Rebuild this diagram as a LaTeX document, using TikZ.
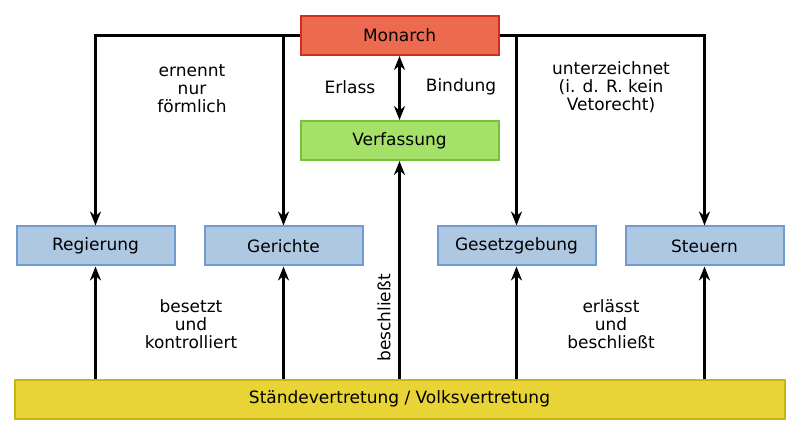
\documentclass[tikz,border=0pt]{standalone}
\usepackage{fontspec}
\setmainfont{DejaVu Sans}
\usetikzlibrary{arrows.meta}
\definecolor{mred}{HTML}{EB6A50}\definecolor{mredb}{HTML}{D0301A}
\definecolor{mgreen}{HTML}{A5E068}\definecolor{mgreenb}{HTML}{78BF3C}
\definecolor{mblue}{HTML}{AFC8E2}\definecolor{mblueb}{HTML}{6F9BD0}
\definecolor{myel}{HTML}{E9D435}\definecolor{myelb}{HTML}{C9B510}
\begin{document}
\begin{tikzpicture}[x=1pt,y=-1pt,
  box/.style={draw,line width=2pt,minimum width=158pt,minimum height=39pt,inner sep=0pt,font=\fontsize{17}{20}\selectfont},
  lab/.style={align=center,font=\fontsize{17}{18}\selectfont},
  ar/.style={line width=2.5pt,-{Stealth[length=14pt,width=11pt]}},
  dar/.style={line width=2.5pt,{Stealth[length=14pt,width=11pt]}-{Stealth[length=14pt,width=11pt]}}]
\useasboundingbox (0,0) rectangle (800,435);
\node[box,fill=mred,draw=mredb,minimum width=198pt] (mon) at (399.5,35.5) {Monarch};
\node[box,fill=mgreen,draw=mgreenb,minimum width=198pt] (ver) at (399.5,140.5) {Verfassung};
\node[box,fill=mblue,draw=mblueb] (reg) at (95.5,246) {Regierung};
\node[box,fill=mblue,draw=mblueb] (ger) at (283.5,246) {Gerichte};
\node[box,fill=mblue,draw=mblueb] (ges) at (516.5,246) {Gesetzgebung};
\node[box,fill=mblue,draw=mblueb] (st) at (704.5,246) {Steuern};
\node[box,fill=myel,draw=myelb,minimum width=770pt] (sv) at (399.5,399) {Ständevertretung / Volksvertretung};
\draw[ar] (mon.west) -| (reg.north);
\draw[ar] (mon.west) -| (ger.north);
\draw[ar] (mon.east) -| (st.north);
\draw[ar] (mon.east) -| (ges.north);
\draw[dar] (mon) -- (ver);
\foreach \n in {reg,ger,ges,st} \draw[ar] (sv.north -| \n) -- (\n.south);
\draw[ar] (sv.north -| ver) -- (ver.south);
\node[lab] (l1) at (192,89) {ernennt\\nur\\förmlich};
\node[lab] (l2) at (350,87) {Erlass};
\node[lab] (l3) at (461,87) {Bindung};
\node[lab] (l4) at (611,87) {unterzeichnet\\(i. d. R. kein\\Vetorecht)};
\node[lab] (l5) at (191,324) {besetzt\\und\\kontrolliert};
\node[lab,rotate=90] (l6) at (384,318) {beschließt};
\node[lab] (l7) at (611,324) {erlässt\\und\\beschließt};
\end{tikzpicture}
\end{document}
